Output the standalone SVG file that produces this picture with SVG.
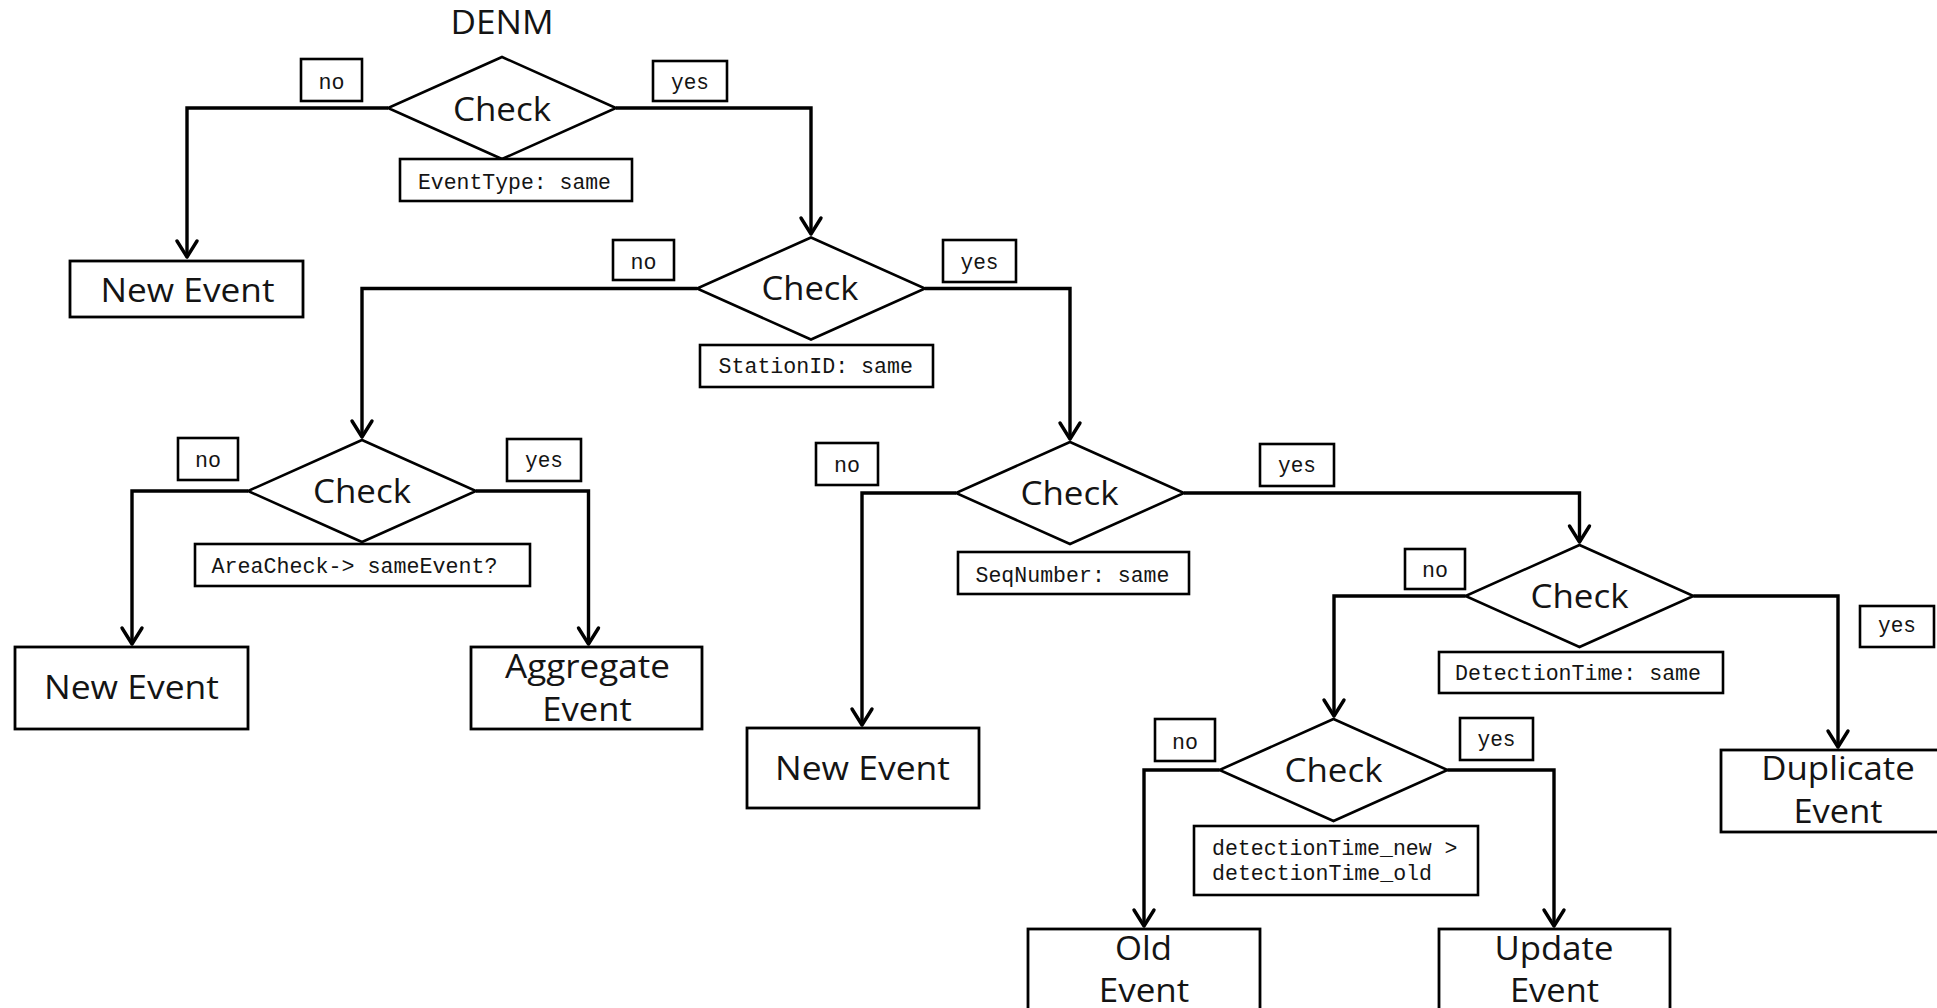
<svg xmlns="http://www.w3.org/2000/svg" width="1937" height="1008" viewBox="0 0 1937 1008">
  <style>
    .bg { fill: #ffffff; }
    .dia { fill: #ffffff; stroke: #000000; stroke-width: 2.6; stroke-linejoin: miter; }
    .box { fill: #ffffff; stroke: #000000; stroke-width: 2.8; }
    .cond { fill: #ffffff; stroke: #000000; stroke-width: 2.6; }
    .tag { fill: #ffffff; stroke: #000000; stroke-width: 2.6; }
    .wire { fill: none; stroke: #000000; stroke-width: 3.4; stroke-linejoin: miter; marker-end: url(#arrow); }
    .big { font-family: "Open Sans", "Noto Sans", sans-serif; font-size: 32px; fill: #141414; text-anchor: middle; }
    .chk { font-family: "Open Sans", "Noto Sans", sans-serif; font-size: 33px; fill: #141414; text-anchor: middle; }
    .mono { font-family: "Liberation Mono", "DejaVu Sans Mono", monospace; font-size: 21.5px; fill: #141414; }
    .lbl { font-family: "Liberation Mono", "DejaVu Sans Mono", monospace; font-size: 21.5px; fill: #141414; text-anchor: middle; }
  </style>
  <defs>
    <marker id="arrow" markerUnits="userSpaceOnUse" markerWidth="26" markerHeight="30" viewBox="-21 -15 26 30" refX="0" refY="0" orient="auto">
      <path d="M-16,-10 L0,0 L-16,10" fill="none" stroke="#000000" stroke-width="3.4" stroke-linejoin="round" stroke-linecap="round"/>
    </marker>
  </defs>

  <rect class="bg" x="0" y="0" width="1937" height="1008"/>

  <!-- title -->
  <text id="title" class="big" x="502" y="34" font-size="30" textLength="103" lengthAdjust="spacingAndGlyphs">DENM</text>

  <!-- connectors -->
  <g id="connectors">
    <polyline class="wire" points="388,108 187,108 187,257"/>
    <polyline class="wire" points="616,108 811,108 811,234"/>
    <polyline class="wire" points="697,288.5 362,288.5 362,437"/>
    <polyline class="wire" points="925,288.5 1070,288.5 1070,439"/>
    <polyline class="wire" points="248,491 132,491 132,644"/>
    <polyline class="wire" points="476,491 588.5,491 588.5,644"/>
    <polyline class="wire" points="956,493 862,493 862,725"/>
    <polyline class="wire" points="1184,493 1579.5,493 1579.5,542"/>
    <polyline class="wire" points="1465.5,596 1334,596 1334,716"/>
    <polyline class="wire" points="1693.5,596 1838,596 1838,747"/>
    <polyline class="wire" points="1219.5,770 1144,770 1144,926"/>
    <polyline class="wire" points="1447.5,770 1554,770 1554,926"/>
  </g>

  <!-- decision 1: event type -->
  <g id="check-eventtype">
    <polygon class="dia" points="502,57 616,108 502,159 388,108"/>
    <text class="chk" x="502" y="120.5" textLength="98" lengthAdjust="spacingAndGlyphs">Check</text>
    <rect class="cond" x="400" y="159" width="232" height="42"/>
    <text class="mono" x="418" y="189" textLength="193" lengthAdjust="spacingAndGlyphs">EventType: same</text>
    <rect class="tag" x="301" y="59" width="61" height="42"/>
    <text class="lbl" x="331.5" y="89" textLength="26" lengthAdjust="spacingAndGlyphs">no</text>
    <rect class="tag" x="653" y="61" width="74" height="40"/>
    <text class="lbl" x="690" y="88.5" textLength="38" lengthAdjust="spacingAndGlyphs">yes</text>
  </g>

  <g id="new-event-1">
    <rect class="box" x="70" y="261" width="233" height="56"/>
    <text class="big" x="187.5" y="301.5" textLength="174" lengthAdjust="spacingAndGlyphs">New Event</text>
  </g>

  <!-- decision 2: station id -->
  <g id="check-stationid">
    <polygon class="dia" points="811,237.5 925,288.5 811,339.5 697,288.5"/>
    <text class="chk" x="810" y="300" textLength="97" lengthAdjust="spacingAndGlyphs">Check</text>
    <rect class="cond" x="700" y="345" width="233" height="42"/>
    <text class="mono" x="718.5" y="373" textLength="194.5" lengthAdjust="spacingAndGlyphs">StationID: same</text>
    <rect class="tag" x="613" y="240" width="61" height="40"/>
    <text class="lbl" x="643.5" y="268.5" textLength="26" lengthAdjust="spacingAndGlyphs">no</text>
    <rect class="tag" x="943" y="240" width="73" height="42"/>
    <text class="lbl" x="979.5" y="268.5" textLength="38" lengthAdjust="spacingAndGlyphs">yes</text>
  </g>

  <!-- decision 3: area check -->
  <g id="check-area">
    <polygon class="dia" points="362,440 476,491 362,542 248,491"/>
    <text class="chk" x="362" y="503" textLength="98" lengthAdjust="spacingAndGlyphs">Check</text>
    <rect class="cond" x="195" y="544" width="335" height="42"/>
    <text class="mono" x="211.5" y="573" textLength="286" lengthAdjust="spacingAndGlyphs">AreaCheck-&gt; sameEvent?</text>
    <rect class="tag" x="178" y="438" width="60" height="42"/>
    <text class="lbl" x="208" y="467" textLength="26" lengthAdjust="spacingAndGlyphs">no</text>
    <rect class="tag" x="507" y="439" width="74" height="42"/>
    <text class="lbl" x="544" y="467" textLength="38" lengthAdjust="spacingAndGlyphs">yes</text>
  </g>

  <g id="new-event-2">
    <rect class="box" x="15" y="647" width="233" height="82"/>
    <text class="big" x="131.5" y="699" textLength="175" lengthAdjust="spacingAndGlyphs">New Event</text>
  </g>

  <g id="aggregate-event">
    <rect class="box" x="471" y="647" width="231" height="82"/>
    <text class="big" x="587.5" y="678" textLength="165" lengthAdjust="spacingAndGlyphs">Aggregate</text>
    <text class="big" x="587" y="720.5" textLength="89.5" lengthAdjust="spacingAndGlyphs">Event</text>
  </g>

  <!-- decision 4: sequence number -->
  <g id="check-seqnumber">
    <polygon class="dia" points="1070,442 1184,493 1070,544 956,493"/>
    <text class="chk" x="1069.5" y="505" textLength="98" lengthAdjust="spacingAndGlyphs">Check</text>
    <rect class="cond" x="958" y="552" width="231" height="42"/>
    <text class="mono" x="975.5" y="582" textLength="194" lengthAdjust="spacingAndGlyphs">SeqNumber: same</text>
    <rect class="tag" x="816" y="443" width="62" height="42"/>
    <text class="lbl" x="847" y="472" textLength="26" lengthAdjust="spacingAndGlyphs">no</text>
    <rect class="tag" x="1260" y="444" width="74" height="42"/>
    <text class="lbl" x="1297" y="472" textLength="38" lengthAdjust="spacingAndGlyphs">yes</text>
  </g>

  <g id="new-event-3">
    <rect class="box" x="747" y="728" width="232" height="80"/>
    <text class="big" x="862.5" y="779.5" textLength="175" lengthAdjust="spacingAndGlyphs">New Event</text>
  </g>

  <!-- decision 5: detection time equal -->
  <g id="check-detectiontime">
    <polygon class="dia" points="1579.5,545 1693.5,596 1579.5,647 1465.5,596"/>
    <text class="chk" x="1579.5" y="608" textLength="98" lengthAdjust="spacingAndGlyphs">Check</text>
    <rect class="cond" x="1439" y="652" width="284" height="41"/>
    <text class="mono" x="1455" y="680" textLength="246" lengthAdjust="spacingAndGlyphs">DetectionTime: same</text>
    <rect class="tag" x="1405" y="549" width="60" height="40"/>
    <text class="lbl" x="1435" y="577" textLength="26" lengthAdjust="spacingAndGlyphs">no</text>
    <rect class="tag" x="1860" y="606" width="74" height="41"/>
    <text class="lbl" x="1897" y="632" textLength="38" lengthAdjust="spacingAndGlyphs">yes</text>
  </g>

  <g id="duplicate-event">
    <rect class="box" x="1721" y="750" width="233" height="82"/>
    <text class="big" x="1838" y="780" textLength="153.5" lengthAdjust="spacingAndGlyphs">Duplicate</text>
    <text class="big" x="1838" y="823" textLength="89" lengthAdjust="spacingAndGlyphs">Event</text>
  </g>

  <!-- decision 6: detection time newer -->
  <g id="check-newer">
    <polygon class="dia" points="1333.5,719 1447.5,770 1333.5,821 1219.5,770"/>
    <text class="chk" x="1333.5" y="782" textLength="98" lengthAdjust="spacingAndGlyphs">Check</text>
    <rect class="cond" x="1194" y="826" width="284" height="69"/>
    <text class="mono" x="1212" y="855" textLength="245.5" lengthAdjust="spacingAndGlyphs">detectionTime_new &gt;</text>
    <text class="mono" x="1212" y="880" textLength="220" lengthAdjust="spacingAndGlyphs">detectionTime_old</text>
    <rect class="tag" x="1155" y="719" width="60" height="42"/>
    <text class="lbl" x="1185" y="749" textLength="26" lengthAdjust="spacingAndGlyphs">no</text>
    <rect class="tag" x="1460" y="718" width="73" height="42"/>
    <text class="lbl" x="1496.5" y="745.5" textLength="38" lengthAdjust="spacingAndGlyphs">yes</text>
  </g>

  <g id="old-event">
    <rect class="box" x="1028" y="929" width="232" height="82"/>
    <text class="big" x="1143.5" y="959.5" textLength="57" lengthAdjust="spacingAndGlyphs">Old</text>
    <text class="big" x="1144" y="1001.5" textLength="90.5" lengthAdjust="spacingAndGlyphs">Event</text>
  </g>

  <g id="update-event">
    <rect class="box" x="1439" y="929" width="231" height="82"/>
    <text class="big" x="1554" y="959.5" textLength="119" lengthAdjust="spacingAndGlyphs">Update</text>
    <text class="big" x="1554.5" y="1001.5" textLength="89" lengthAdjust="spacingAndGlyphs">Event</text>
  </g>
</svg>
